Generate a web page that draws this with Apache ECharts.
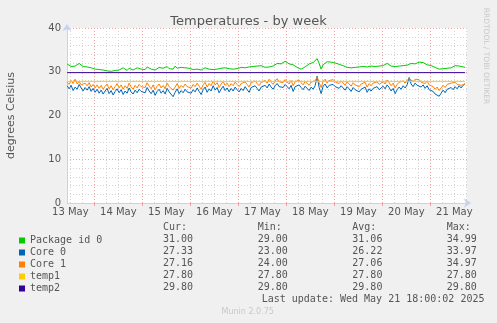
<!DOCTYPE html>
<html><head><meta charset="utf-8">
<script src="https://cdn.jsdelivr.net/npm/echarts@6/dist/echarts.min.js"></script>
<style>html,body{margin:0;padding:0;background:#f0f0f0}#c{width:497px;height:323px}</style>
</head><body><div id="c"></div>
<script>
// time: hours after 13 May 00:00, one sample every hour
const startHour = 10.4;
const stepHours = 1;
const axisMinHour = 10.33;
const axisMaxHour = 210.33;
const dayLabels = ['13 May','14 May','15 May','16 May','17 May','18 May','19 May','20 May','21 May'];
const yTicks = [0, 10, 20, 30, 40];

const packageId0 = [
  31.8,31.5,31.2,31.4,31.3,31.6,31.9,31.7,31.2,31.0,31.1,30.8,30.9,30.7,
  30.6,30.9,30.5,30.7,30.4,30.6,30.2,29.9,30.1,30.5,30.3,30.7,30.4,30.6,30.9,30.5,30.3,30.8,30.6,30.4,30.7,30.9,30.5,30.6,
  30.8,30.5,31.1,30.7,30.6,30.9,30.4,30.7,31.0,30.6,30.8,30.5,31.2,30.7,30.9,30.6,31.3,30.8,30.6,31.0,30.7,30.9,30.6,30.8,
  30.7,30.5,30.9,30.6,30.8,30.4,30.7,30.9,30.5,30.6,30.8,30.5,30.7,30.6,31.0,30.8,31.2,30.9,31.1,30.7,30.8,30.6,30.9,30.7,
  30.8,31.0,31.2,30.9,31.3,31.1,31.4,31.2,31.5,31.3,31.6,31.4,31.2,31.0,30.9,31.1,31.4,31.3,31.7,31.9,32.1,31.8,32.2,32.4,
  32.0,31.8,31.5,31.6,31.2,31.0,30.8,30.6,30.9,31.1,31.5,31.8,31.7,32.1,32.4,33.0,31.9,30.6,31.6,32.0,32.3,32.1,32.2,31.9,
  32.0,31.8,31.7,31.5,31.4,31.2,31.0,31.1,30.9,31.2,31.0,31.3,31.1,30.9,31.2,31.4,31.1,31.0,31.3,31.5,31.2,31.6,31.3,31.5,
  31.4,31.7,31.9,31.6,31.3,31.1,31.2,31.5,31.3,31.6,31.4,31.8,31.5,31.7,31.9,31.6,31.8,32.0,32.2,31.9,32.1,31.8,31.6,31.5,
  31.4,31.2,31.0,30.8,30.6,30.5,30.7,30.9,30.8,31.0,30.9,31.2,31.4,31.6,31.3,31.5,31.1,31.0
];
const core0 = [
  26.8,26.1,26.9,25.7,26.5,26.0,27.1,26.3,25.6,26.4,25.8,26.6,25.5,26.2,
  25.3,26.0,25.1,25.8,24.9,25.6,26.2,25.0,25.7,24.7,25.5,26.1,25.2,25.9,24.8,25.6,25.1,26.3,25.4,24.9,25.8,25.2,26.0,25.5,
  25.9,25.2,26.4,25.6,25.0,25.8,24.6,25.5,26.0,25.1,25.7,24.9,26.2,25.4,25.8,24.3,25.3,26.1,25.0,25.7,25.2,26.0,25.4,25.8,
  25.1,25.9,25.4,26.3,25.5,24.8,25.9,26.5,25.3,26.1,25.6,26.8,25.8,26.4,25.2,26.0,26.7,25.7,26.3,25.4,26.2,25.6,26.5,25.9,
  25.4,26.2,25.7,26.6,25.9,25.3,26.4,26.0,26.8,26.2,25.6,26.5,26.1,26.9,26.3,27.2,26.5,26.0,26.8,27.3,26.6,27.0,26.4,27.1,
  26.7,26.1,26.9,25.5,26.6,26.2,27.0,26.4,25.9,26.7,26.3,25.7,26.5,26.0,26.8,29.0,26.4,25.0,26.7,27.2,26.3,26.9,26.5,27.1,
  26.6,27.0,26.2,26.8,26.4,25.8,26.6,26.1,25.5,26.4,25.9,26.3,25.4,26.0,25.7,26.5,25.3,26.1,25.6,26.2,25.8,26.6,25.9,26.3,
  26.7,26.1,27.0,26.4,25.6,26.2,25.0,25.9,26.5,26.0,26.8,26.3,27.0,28.7,27.2,26.6,27.4,26.9,27.2,26.5,27.0,26.2,26.8,25.9,
  26.3,25.5,24.9,25.3,24.4,25.1,25.8,25.2,26.0,25.6,26.4,25.9,26.6,26.1,26.8,26.3,26.9,27.3
];
const core1 = [
  27.6,27.1,28.0,27.3,28.3,27.2,27.8,27.0,26.6,27.4,26.8,27.5,26.5,27.1,
  26.3,27.0,26.2,26.9,26.0,26.7,27.2,26.1,26.8,25.9,26.6,27.3,26.3,27.0,26.0,26.8,26.2,27.4,26.5,26.0,26.9,26.3,27.1,26.6,
  27.0,26.4,27.5,26.7,26.1,27.0,25.9,26.7,27.2,26.3,26.9,26.1,27.4,26.6,27.0,25.8,26.5,27.3,26.2,26.9,26.4,27.2,26.6,27.0,
  26.3,27.1,26.6,27.4,26.7,26.0,27.0,27.6,26.5,27.3,26.8,27.9,27.0,27.5,26.4,27.2,27.8,26.9,27.4,26.6,27.3,26.8,27.6,27.1,
  26.6,27.3,26.9,27.7,27.1,26.5,27.5,27.1,27.9,27.3,26.8,27.6,27.2,28.0,27.4,28.3,27.6,27.1,27.9,28.4,27.7,28.1,27.5,28.2,
  27.8,27.2,28.0,26.8,27.7,27.3,28.1,27.5,27.0,27.8,27.4,26.9,27.6,27.2,27.9,28.8,27.5,26.4,27.8,28.3,27.4,28.0,27.6,28.2,
  27.7,28.1,27.3,27.9,27.5,26.9,27.7,27.2,26.7,27.5,27.0,27.4,26.6,27.2,26.9,27.6,26.5,27.3,26.8,27.4,27.0,27.7,27.1,27.5,
  27.8,27.2,28.1,27.5,26.8,27.4,26.3,27.1,27.6,27.2,27.9,27.4,28.0,28.5,28.2,27.7,28.3,27.9,28.2,27.6,28.0,27.3,27.9,27.0,
  27.3,26.6,26.0,26.5,25.7,26.3,26.9,26.4,27.1,26.7,27.4,27.0,27.6,27.1,27.5,26.9,27.3,27.16
];
const temp1Value = 27.8;
const temp2Value = 29.8;

const seriesNames = ['Package id 0','Core 0','Core 1','temp1','temp2'];
const statCur = ['31.00','27.33','27.16','27.80','29.80'];
const statMin = ['29.00','23.00','24.00','27.80','29.80'];
const statAvg = ['31.06','26.22','27.06','27.80','29.80'];
const statMax = ['34.99','33.97','34.97','27.80','29.80'];
const statHeaders = ['Cur:','Min:','Avg:','Max:'];
const lastUpdate = 'Last update: Wed May 21 18:00:02 2025';

// ---- styles ----
const colors = ['#00cc00','#0066b3','#ff8000','#ffcc00','#330099'];
const textColor = '#555555';
const minorGrid = '#d4d4d4';
const majorGrid = '#f0a0a0';
const axisColor = '#c8d0f8';

function toPairs(arr){ return arr.map((v,i)=>[startHour + i*stepHours, v]); }
const endHour = startHour + (packageId0.length-1)*stepHours;

const minorLines = [], majorLines = [];
for (let h = 12; h <= 210; h += 6) {
  if (h % 24 === 0) majorLines.push({xAxis: h});
  else minorLines.push({xAxis: h});
}
const noonValues = dayLabels.map((d,i)=>12 + 24*i);

const series = [
  {type:'line', data:[], silent:true,
   markLine:{silent:true, symbol:['none','none'], z:1, label:{show:false},
     data: minorLines.map(d=>Object.assign({lineStyle:{color:minorGrid,type:[1,2],width:1}},d))
       .concat(majorLines.map(d=>Object.assign({lineStyle:{color:majorGrid,type:[1,2],width:1}},d)))}}
];
const lineData = [toPairs(packageId0), toPairs(core0), toPairs(core1),
  [[startHour,temp1Value],[endHour,temp1Value]], [[startHour,temp2Value],[endHour,temp2Value]]];
seriesNames.forEach((n,i)=>{
  series.push({name:n, type:'line', data:lineData[i], showSymbol:false, symbol:'rect',
    lineStyle:{width:1,color:colors[i]}, itemStyle:{color:colors[i]}, animation:false});
});

const mono = {fontFamily:'DejaVu Sans Mono', fontSize:10, fill:textColor};
const colX = [163, 257.7, 352.3, 446.7];
const graphics = [];
statHeaders.forEach((h,c)=>graphics.push({type:'text', x:colX[c], y:227.7, style:Object.assign({text:h, verticalAlign:'middle'},mono)}));
const stats = [statCur, statMin, statAvg, statMax];
seriesNames.forEach((n,r)=>{
  stats.forEach((s,c)=>graphics.push({type:'text', x:colX[c], y:239.5+12*r, style:Object.assign({text:s[r], verticalAlign:'middle'},mono)}));
});
graphics.push({type:'text', x:261.7, y:299.3, style:Object.assign({text:lastUpdate, verticalAlign:'middle'},mono)});
graphics.push({type:'text', x:247.7, y:312.3, style:{text:'Munin 2.0.75', align:'center', verticalAlign:'middle', fontFamily:'DejaVu Sans', fontSize:8, fill:'#c8c8c8'}});
graphics.push({type:'text', x:486, y:56, rotation:-Math.PI/2, style:{text:'RRDTOOL / TOBI OETIKER', align:'center', verticalAlign:'middle', fontFamily:'DejaVu Sans', fontSize:7.5, fill:'#c8c8c8'}});

const chart = echarts.init(document.getElementById('c'), null, {renderer:'canvas'});
chart.setOption({
  backgroundColor:'#f0f0f0',
  animation:false,
  title:{text:'Temperatures - by week', left:'center', top:10,
    textStyle:{fontFamily:'DejaVu Sans', fontSize:13, fontWeight:'normal', color:textColor}},
  grid:{left:67, top:28, width:400, height:175, show:true, backgroundColor:'#ffffff', borderWidth:0,
    containLabel:false, outerBoundsMode:'none'},
  legend:{orient:'vertical', left:14, top:229.5, itemWidth:6, itemHeight:6, itemGap:0, icon:'rect',
    data:seriesNames, selectedMode:false,
    textStyle:{fontFamily:'DejaVu Sans Mono', fontSize:10, color:textColor, lineHeight:12, padding:[0,0,0,0]}},
  xAxis:{type:'value', min:axisMinHour, max:axisMaxHour,
    axisLine:{show:true, lineStyle:{color:axisColor,width:1}, symbol:['none','arrow'], symbolSize:[7,7], symbolOffset:[0,4]},
    axisTick:{show:true, customValues:majorLines.map(d=>d.xAxis), length:3, lineStyle:{color:majorGrid}},
    splitLine:{show:false},
    axisLabel:{customValues:noonValues, formatter:v=>dayLabels[Math.round((v-12)/24)], margin:4,
      fontFamily:'DejaVu Sans', fontSize:10, color:textColor}},
  yAxis:{type:'value', min:0, max:40, interval:2,
    name:'degrees Celsius', nameLocation:'middle', nameGap:50,
    nameTextStyle:{fontFamily:'DejaVu Sans', fontSize:11, color:textColor},
    axisLine:{show:true, lineStyle:{color:axisColor,width:1}, symbol:['none','arrow'], symbolSize:[7,7], symbolOffset:[0,4]},
    axisTick:{show:false},
    axisLabel:{customValues:yTicks, margin:6, fontFamily:'DejaVu Sans', fontSize:10, color:textColor},
    splitLine:{show:true, lineStyle:{color:[majorGrid,minorGrid,minorGrid,minorGrid,minorGrid], type:[1,2], width:1}}},
  graphic:graphics,
  series:series
});
</script></body></html>
